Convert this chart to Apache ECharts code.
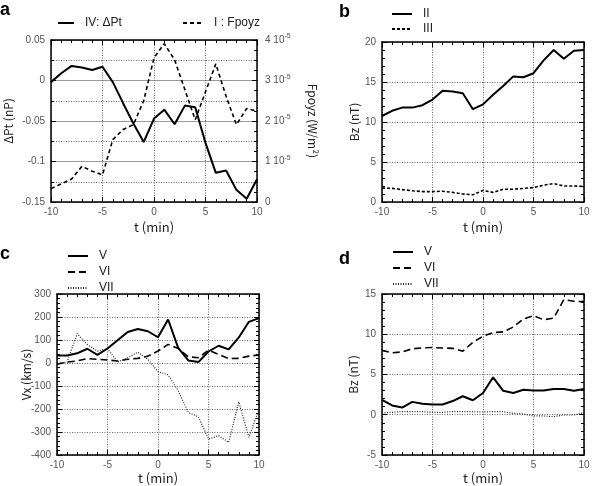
<!DOCTYPE html>
<html><head><meta charset="utf-8">
<script src="https://cdn.jsdelivr.net/npm/echarts@6/dist/echarts.min.js"></script>
<style>html,body{margin:0;padding:0;background:#fff}#c{width:594px;height:486px}</style>
</head><body><div id="c"></div>
<script>
// time axis (min)
const tMin = [-10,-9,-8,-7,-6,-5,-4,-3,-2,-1,0,1,2,3,4,5,6,7,8,9,10];
// panel a
const dPt = [-0.002,0.009,0.018,0.016,0.013,0.017,-0.002,-0.028,-0.053,-0.076,-0.047,-0.036,-0.054,-0.031,-0.033,-0.077,-0.114,-0.111,-0.135,-0.146,-0.122];
const fpoyzE5 = [0.33,0.45,0.57,0.88,0.76,0.67,1.54,1.79,1.91,2.5,3.56,3.91,3.51,2.77,2.03,2.72,3.41,2.61,1.91,2.31,2.24]; // units of 1e-5 W/m^2
// panel b
const bzII = [10.75,11.4,11.8,11.8,12.1,12.8,13.9,13.8,13.6,11.6,12.2,13.4,14.5,15.7,15.6,16.1,17.7,19.0,17.9,18.9,19.0];
const bzIII = [1.75,1.7,1.55,1.4,1.3,1.3,1.35,1.2,1.0,0.9,1.45,1.2,1.6,1.6,1.7,1.8,2.1,2.3,2.0,2.0,1.95];
// panel c
const vxV = [33,33,42,62,35,63,99,135,148,138,112,189,66,11,4,50,75,59,111,179,195];
const vxVI = [-5,4,9,19,16,13,9,16,20,30,52,81,63,27,23,56,37,19,20,30,35];
const vxVII = [-5,4,128,80,52,62,4,23,47,16,-38,-51,-121,-215,-234,-331,-316,-345,-169,-323,-201];
// panel d
const bzV = [1.86,1.16,0.9,1.6,1.37,1.28,1.28,1.7,2.3,1.8,2.7,4.65,2.97,2.7,3.1,3.0,3.0,3.2,3.2,2.97,3.2];
const bzVI = [8.0,7.7,7.8,8.2,8.3,8.35,8.3,8.25,7.9,9.0,9.75,10.2,10.3,10.9,11.9,12.3,11.8,12.0,14.3,14.1,14.05];
const bzVII = [0.25,0.3,0.38,0.38,0.38,0.3,0.3,0.4,0.4,0.38,0.34,0.4,0.38,0.17,0.1,-0.15,-0.15,-0.24,-0.03,-0.03,0.25];

const pair = arr => tMin.map((t,i)=>[t,arr[i]]);
const FT = 'Liberation Sans';
const FN = 'Noto Sans CJK JP';
const lab = {fontFamily:FT,fontSize:10,color:'#555'};
const nameStyle = {fontFamily:FN,fontSize:12,color:'#222'};
const xNameStyle = {fontFamily:FN,fontSize:13,color:'#222'};
const axLine = {show:true,onZero:false,lineStyle:{color:'#000',width:1.5}};
const tick = {show:true,inside:true,length:5,lineStyle:{color:'#000',width:1}};
const minor = n => ({show:true,splitNumber:n,length:3,lineStyle:{color:'#000',width:1}});
const dot = {show:true,lineStyle:{type:[1,1.5],color:'#666',width:1}};

const grids = [
  {left:51,top:40,width:206,height:162},
  {left:382,top:42,width:202,height:160},
  {left:57,top:294,width:202,height:162},
  {left:382,top:294,width:202,height:162}
];
const xAxes=[], yAxes=[];
grids.forEach((g,i)=>{
  const nameGap = i<2 ? 19 : 17;
  xAxes.push({gridIndex:i,type:'value',min:-10,max:10,interval:5,position:'bottom',
    axisLine:axLine,axisTick:tick,minorTick:minor(5),splitLine:dot,
    axisLabel:Object.assign({margin:5},lab),
    name:'t (min)',nameLocation:'middle',nameGap:nameGap,nameMoveOverlap:false,nameTextStyle:xNameStyle});
  xAxes.push({gridIndex:i,type:'value',min:-10,max:10,interval:5,position:'top',
    axisLine:axLine,axisTick:tick,minorTick:minor(5),splitLine:{show:false},axisLabel:{show:false}});
});
// y axes
const yCfg = [
  {min:-0.15,max:0.05,interval:0.05,name:'ΔPt (nP)',gap:37},
  {min:0,max:20,interval:5,name:'Bz (nT)',gap:22},
  {min:-400,max:300,interval:100,name:'Vx (km/s)',gap:25},
  {min:-5,max:15,interval:5,name:'Bz (nT)',gap:23}
];
yCfg.forEach((c,i)=>{
  const y = {gridIndex:i,type:'value',min:c.min,max:c.max,interval:c.interval,position:'left',
    axisLine:axLine,axisTick:tick,minorTick:minor(5),splitLine:dot,
    axisLabel:Object.assign({margin:6},lab),
    name:c.name,nameLocation:'middle',nameGap:c.gap,nameMoveOverlap:false,nameTextStyle:nameStyle};
  if(i===0){
    y.splitLine={show:true,lineStyle:{color:'#999',width:1}};
    y.minorSplitLine={show:true,lineStyle:{type:[1,1.5],color:'#666',width:1}};
    y.minorTick=minor(2);
  }
  yAxes.push(y);
  if(i===0){
    yAxes.push({gridIndex:0,type:'value',min:0,max:4,interval:1,position:'right',
      axisLine:axLine,axisTick:tick,minorTick:minor(4),splitLine:{show:false},
      axisLabel:{margin:8,fontFamily:FT,fontSize:10,color:'#555',
        formatter:v=> v===0 ? '0' : '{n|'+Math.round(v)+' 10}{s|-5}',
        rich:{n:{fontFamily:FT,fontSize:10,color:'#555'},s:{fontFamily:FT,fontSize:7,color:'#555',verticalAlign:'bottom',padding:[0,0,7,0]}}},
      name:'Fpoyz (W/m²)',nameLocation:'middle',nameRotate:-90,nameGap:50,nameMoveOverlap:false,nameTextStyle:nameStyle});
  } else {
    yAxes.push({gridIndex:i,type:'value',min:c.min,max:c.max,interval:c.interval,position:'right',
      axisLine:axLine,axisTick:tick,minorTick:minor(5),splitLine:{show:false},axisLabel:{show:false}});
  }
});
// yAxis indices: 0 a-left,1 a-right,2 b-left,3 b-right,4 c-left,5 c-right,6 d-left,7 d-right
const solid = {color:'#000',width:2,type:'solid'};
const dotted = {color:'#222',width:1.2,type:[1,1.5]};
const mk = (name,arr,xi,yi,ls) => ({name:name,type:'line',xAxisIndex:xi,yAxisIndex:yi,data:pair(arr),
  showSymbol:false,symbol:'none',color:'#000',lineStyle:ls,animation:false,z:3});
const series = [
  mk('IV: ΔPt',dPt,0,0,solid),
  mk('I : Fpoyz',fpoyzE5,0,1,{color:'#000',width:1.6,type:[4,3]}),
  mk('II',bzII,2,2,solid),
  mk('III',bzIII,2,2,{color:'#000',width:1.6,type:[3,2]}),
  mk('V',vxV,4,4,solid),
  mk('VI',vxVI,4,4,{color:'#000',width:1.6,type:[7,4]}),
  mk('VII',vxVII,4,4,dotted),
  mk('V ',bzV,6,6,solid),
  mk('VI ',bzVI,6,6,{color:'#000',width:1.6,type:[7,4]}),
  mk('VII ',bzVII,6,6,dotted)
];
const legText = {fontFamily:FT,fontSize:12,color:'#222',padding:[0,0,0,6]};
const legBase = {itemWidth:20,itemHeight:10,selectedMode:false,textStyle:legText,itemStyle:{opacity:0,borderWidth:0}};
const legends = [
  Object.assign({},legBase,{data:['IV: ΔPt'],left:52,top:12,itemWidth:16}),
  Object.assign({},legBase,{data:['I : Fpoyz'],left:177,top:12}),
  Object.assign({},legBase,{data:['II','III'],left:386,top:3,orient:'vertical',itemGap:3}),
  Object.assign({},legBase,{data:['V','VI','VII'],left:62,top:245,orient:'vertical',itemGap:4}),
  Object.assign({},legBase,{data:['V ','VI ','VII '],left:387,top:241,orient:'vertical',itemGap:4})
];
const letter = (t,l,tp)=>({text:t,left:l,top:tp,textStyle:{fontFamily:'Liberation Sans',fontSize:18,fontWeight:'bold',color:'#000'},padding:0});
const chart = echarts.init(document.getElementById('c'),null,{renderer:'canvas'});
chart.setOption({
  animation:false,
  backgroundColor:'#fff',
  title:[letter('a',0,1),letter('b',339,3),letter('c',0,245),letter('d',339,250)],
  legend:legends,
  grid:grids,
  xAxis:xAxes,
  yAxis:yAxes,
  series:series
});
</script></body></html>
